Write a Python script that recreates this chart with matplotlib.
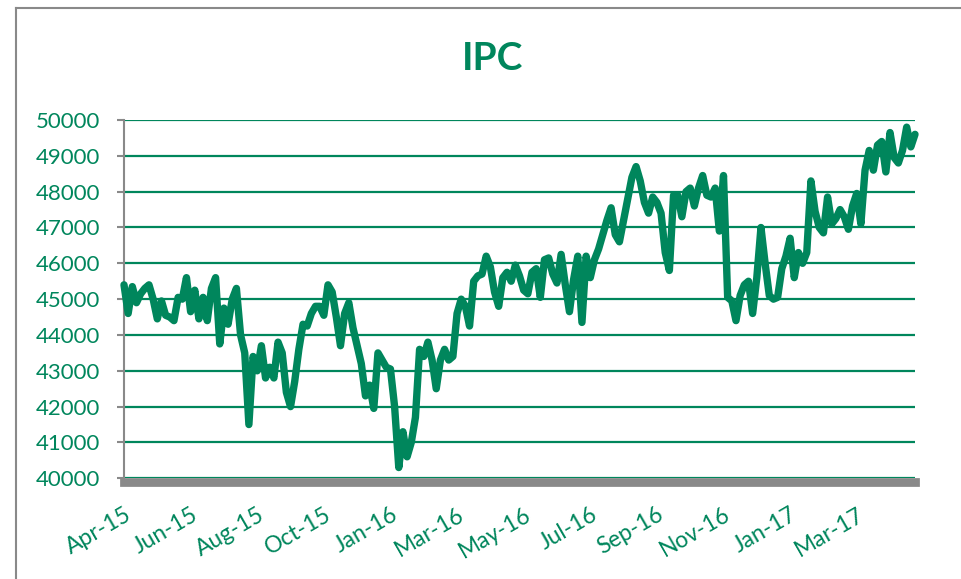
import matplotlib
matplotlib.use("Agg")
import matplotlib.pyplot as plt
from matplotlib.lines import Line2D

# ---------------- data ----------------
title = "IPC"
tick_labels = ["Apr-15", "Jun-15", "Aug-15", "Oct-15", "Jan-16", "Mar-16",
               "May-16", "Jul-16", "Sep-16", "Nov-16", "Jan-17", "Mar-17"]
label_step = 16  # one label every 16 points
y_ticks = list(range(40000, 50001, 1000))

ipc = [
    45400, 44600, 45350, 44900, 45150, 45300, 45400, 45000, 44450, 44950,
    44550, 44500, 44400, 45050, 45000, 45600, 44650, 45250, 44450, 45050,
    44400, 45300, 45600, 43750, 44750, 44300, 45000, 45300, 44000, 43500,
    41500, 43400, 43000, 43700, 42800, 43100, 42800, 43800, 43500, 42400,
    42000, 42700, 43600, 44300, 44250, 44600, 44800, 44800, 44550, 45400,
    45200, 44500, 43700, 44600, 44900, 44200, 43700, 43200, 42300, 42600,
    41950, 43500, 43300, 43100, 43050, 42000, 40300, 41300, 40600, 41000,
    41700, 43600, 43400, 43800, 43300, 42500, 43300, 43600, 43300, 43400,
    44600, 45000, 44800, 44250, 45500, 45650, 45700, 46200, 45900, 45200,
    44800, 45600, 45750, 45500, 45950, 45650, 45250, 45150, 45750, 45850,
    45050, 46100, 46150, 45700, 45450, 46250, 45400, 44650, 45550, 46200,
    44350, 46200, 45600, 46100, 46400, 46800, 47200, 47550, 46800, 46600,
    47200, 47800, 48400, 48700, 48300, 47700, 47400, 47850, 47700, 47400,
    46300, 45800, 47900, 47900, 47300, 48000, 48100, 47600, 48100, 48450,
    47900, 47850, 48100, 46900, 48450, 45050, 44950, 44400, 45100, 45400,
    45500, 44600, 45600, 47000, 46000, 45100, 45000, 45050, 45850, 46200,
    46700, 45600, 46300, 46000, 46300, 48300, 47450, 47000, 46850, 47850,
    47100, 47250, 47500, 47300, 46950, 47600, 47950, 47100, 48600, 49150,
    48600, 49300, 49400, 48550, 49650, 48950, 48800, 49150, 49800, 49250,
    49600,
]

# ---------------- style ----------------
GREEN = "#00865C"
GRAY = "#898989"
plt.rcParams['font.family'] = ['Lato', 'DejaVu Sans']

fig = plt.figure(figsize=(9.62, 5.79), dpi=100)
ax = fig.add_axes([124 / 962, 1 - 478.3 / 579, (915 - 124) / 962, (478.3 - 120) / 579])

x = list(range(len(ipc)))
ax.plot(x, ipc, color=GREEN, lw=5.3, solid_joinstyle='round',
        solid_capstyle='round', zorder=3, clip_on=False)

ax.set_xlim(0, len(ipc) - 1)
ax.set_ylim(40000, 50000)
ax.set_yticks(y_ticks)
ax.grid(axis='y', color=GREEN, lw=1.6)
ax.grid(axis='x', visible=False)
ax.set_axisbelow(True)

for s in ('top', 'right'):
    ax.spines[s].set_visible(False)
ax.spines['left'].set_color(GRAY)
ax.spines['left'].set_linewidth(1.5)
ax.spines['bottom'].set_color(GRAY)
ax.spines['bottom'].set_linewidth(6.3)
ax.spines['bottom'].set_position(('outward', 2.5))
ax.spines['bottom'].set_zorder(2)

ax.tick_params(axis='y', colors=GRAY, length=5, width=1.5,
               labelcolor=GREEN, labelsize=16, pad=12)
ax.set_xticks(x[::label_step])
ax.set_xticklabels(tick_labels, rotation=30, ha='right', va='top',
                   rotation_mode='anchor')
ax.tick_params(axis='x', length=0, pad=16, labelcolor=GREEN, labelsize=16.5)

fig.text(493 / 962, 1 - 58 / 579, title, ha='center', va='center',
         fontsize=28, fontweight='bold', color=GREEN)

# chart border
fig.add_artist(Line2D([16 / 962, 16 / 962], [0, 1 - 8 / 579], color=GRAY, lw=1.5,
                      transform=fig.transFigure))
fig.add_artist(Line2D([16 / 962, 1], [1 - 8 / 579, 1 - 8 / 579], color=GRAY, lw=1.5,
                      transform=fig.transFigure))

fig.savefig("out.png", dpi=100)
